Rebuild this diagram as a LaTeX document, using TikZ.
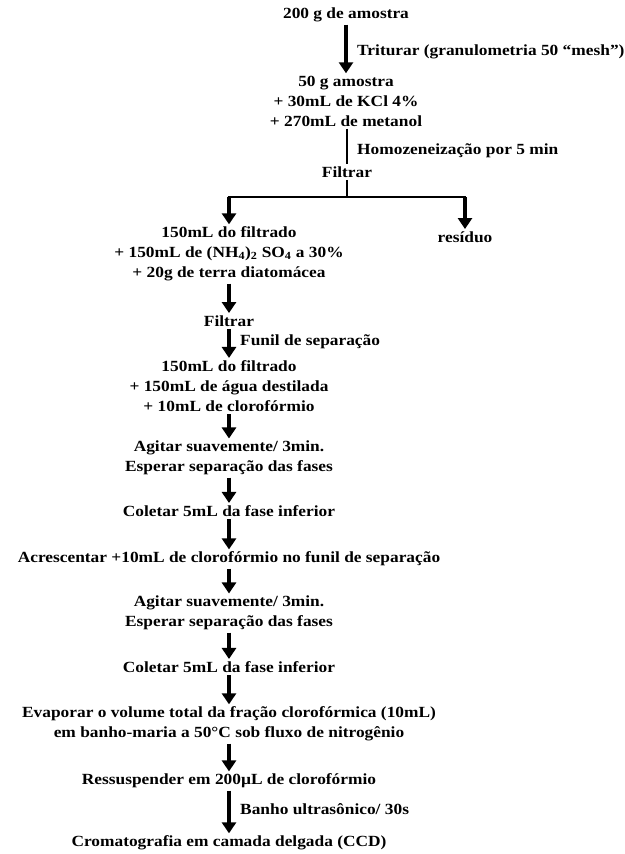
\documentclass[tikz,border=0pt]{standalone}
\usepackage{fontspec}
\setmainfont[FakeStretch=1.12]{Liberation Serif}
\usetikzlibrary{arrows.meta}
\begin{document}
\begin{tikzpicture}[x=1pt,y=-1pt,
  txt/.style={inner sep=0pt, outer sep=2.5pt, align=center, font=\bfseries\fontsize{15.5}{20}\selectfont},
  lbl/.style={inner sep=0pt, anchor=west, font=\bfseries\fontsize{15.5}{20}\selectfont},
  arr/.style={line width=3.6pt, -{Triangle[width=14pt,length=11pt]}},
  ln/.style={line width=2.8pt}]
\useasboundingbox (0,0) rectangle (624,854);
\node[txt] (n1) at (346,15) {200 g de amostra};
\node[txt] (n2) at (346,101) {50 g amostra\\+ 30mL de KCl 4\%\\+ 270mL de metanol};
\node[txt] (n3) at (347,172) {Filtrar};
\node[txt] (n4) at (229,254) {150mL do filtrado\\+ 150mL de (NH\textsubscript{4})\textsubscript{2} SO\textsubscript{4} a 30\%\\+ 20g de terra diatomácea};
\node[txt] (n5) at (465,237) {resíduo};
\node[txt] (n6) at (229,321) {Filtrar};
\node[txt] (n7) at (229,386) {150mL do filtrado\\+ 150mL de água destilada\\+ 10mL de clorofórmio};
\node[txt] (n8) at (229,458) {Agitar suavemente/ 3min.\\Esperar separação das fases};
\node[txt] (n9) at (229,511) {Coletar 5mL da fase inferior};
\node[txt] (n10) at (229,559) {Acrescentar +10mL de clorofórmio no funil de separação};
\node[txt] (n11) at (229,613) {Agitar suavemente/ 3min.\\Esperar separação das fases};
\node[txt] (n12) at (229,667) {Coletar 5mL da fase inferior};
\node[txt] (n13) at (229,724) {Evaporar o volume total da fração clorofórmica (10mL)\\em banho-maria a 50°C sob fluxo de nitrogênio};
\node[txt] (n14) at (229,781) {Ressuspender em 200µL de clorofórmio};
\node[txt] (n15) at (229,843) {Cromatografia em camada delgada (CCD)};
\node[lbl] (l1) at (357,52) {Triturar (granulometria 50 “mesh”)};
\node[lbl] (l2) at (357,151) {Homozeneização por 5 min};
\node[lbl] (l3) at (240,342) {Funil de separação};
\node[lbl] (l4) at (240,809) {Banho ultrasônico/ 30s};
\coordinate (br) at (347,197);
\coordinate (bl) at (229,197);
\coordinate (bR) at (465,197);
\draw[arr] (n1.south) -- (n1.south |- n2.north);
\draw[ln] (n2.south -| n3) -- (n3.north);
\draw[ln] (n3.south) -- (br);
\draw[ln] ([xshift=-1.4pt]bl) -- ([xshift=1.4pt]bR);
\draw[arr] (bl) -- (n4.north);
\draw[arr] (bR) -- (n5.north);
\draw[arr] (n4.south) -- (n6.north);
\draw[arr] (n6.south) -- (n7.north);
\draw[arr] (n7.south) -- (n8.north);
\draw[arr] (n8.south) -- (n9.north);
\draw[arr] (n9.south) -- (n10.north);
\draw[arr] (n10.south) -- (n11.north);
\draw[arr] (n11.south) -- (n12.north);
\draw[arr] (n12.south) -- (n13.north);
\draw[arr] (n13.south) -- (n14.north);
\draw[arr] (n14.south) -- (n15.north);
\end{tikzpicture}
\end{document}
